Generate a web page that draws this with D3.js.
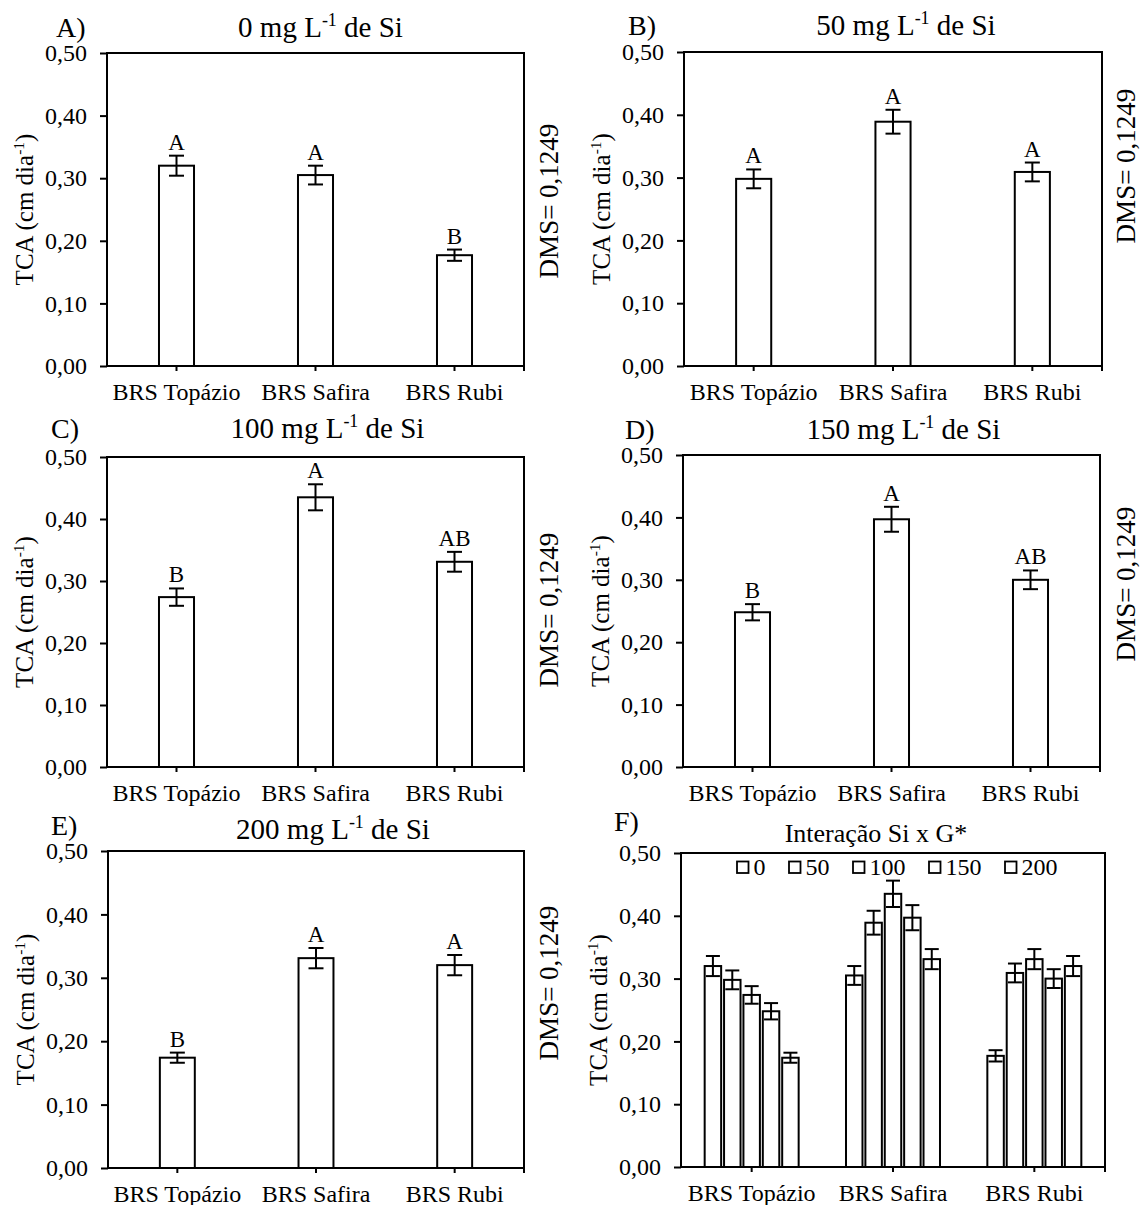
<!DOCTYPE html>
<html>
<head>
<meta charset="utf-8">
<script src="https://cdn.jsdelivr.net/npm/d3@7"></script>
<style>
  html, body { margin: 0; padding: 0; background: #fff; }
  svg { display: block; }
  text { font-family: "Liberation Serif", "Times New Roman", serif; fill: #000; }
</style>
</head>
<body>
<svg id="chart" width="1140" height="1205"></svg>
<script>
// ---------------- data ----------------
const categories = ["BRS Topázio", "BRS Safira", "BRS Rubi"];
const doses = ["0", "50", "100", "150", "200"];

const tca_0   = [0.320, 0.305, 0.177];
const tca_50  = [0.298, 0.389, 0.309];
const tca_100 = [0.274, 0.435, 0.331];
const tca_150 = [0.248, 0.397, 0.300];
const tca_200 = [0.174, 0.331, 0.320];

const err_0   = [0.016, 0.015, 0.009];
const err_50  = [0.015, 0.019, 0.015];
const err_100 = [0.014, 0.021, 0.016];
const err_150 = [0.013, 0.020, 0.015];
const err_200 = [0.008, 0.016, 0.016];

const letters_0   = ["A", "A", "B"];
const letters_50  = ["A", "A", "A"];
const letters_100 = ["B", "A", "AB"];
const letters_150 = ["B", "A", "AB"];
const letters_200 = ["B", "A", "A"];

const yTicks = [0, 0.1, 0.2, 0.3, 0.4, 0.5];
const dmsText = "DMS= 0,1249";
const interactionTitle = "Interação Si x G*";

const tcaByDose = [tca_0, tca_50, tca_100, tca_150, tca_200];
const errByDose = [err_0, err_50, err_100, err_150, err_200];
const lettersByDose = [letters_0, letters_50, letters_100, letters_150, letters_200];

// ---------------- layout ----------------
const FONT = 24;
const panels = [
  {tag: "A)", dose: 0, x0: 107, x1: 524, y0: 53, y1: 366, titleDx: 5,  labelX: 56,  labelY: 37,  titleY: 37,  dmsX: 558,  dmsY: 201},
  {tag: "B)", dose: 1, x0: 684, x1: 1102, y0: 52, y1: 366, titleDx: 13, labelX: 628, labelY: 35,  titleY: 35,  dmsX: 1135, dmsY: 166},
  {tag: "C)", dose: 2, x0: 107, x1: 524, y0: 457, y1: 767, titleDx: 12, labelX: 51,  labelY: 438, titleY: 438, dmsX: 558,  dmsY: 610},
  {tag: "D)", dose: 3, x0: 683, x1: 1100, y0: 455, y1: 767, titleDx: 12, labelX: 625, labelY: 439, titleY: 439, dmsX: 1135, dmsY: 584},
  {tag: "E)", dose: 4, x0: 108, x1: 524, y0: 851, y1: 1168, titleDx: 17, labelX: 51,  labelY: 835, titleY: 839, dmsX: 558,  dmsY: 983},
  {tag: "F)", dose: null, x0: 681, x1: 1105, y0: 853, y1: 1167, titleDx: -17, labelX: 614, labelY: 831, titleY: 842}
];

const svg = d3.select("#chart");
svg.append("rect").attr("width", 1140).attr("height", 1205).attr("fill", "#fff");

function richText(sel, parts, size) {
  const supSize = size * 0.62, shift = size * 0.38;
  parts.forEach((p, i) => {
    const t = sel.append("tspan").text(p.t);
    if (p.sup) {
      t.attr("font-size", supSize).attr("dy", -shift);
    } else {
      t.attr("font-size", size);
      if (i > 0 && parts[i - 1].sup) t.attr("dy", shift);
    }
  });
  return sel;
}

const fmt = v => d3.format(".2f")(v).replace(".", ",");

panels.forEach(p => {
  const g = svg.append("g");
  const y = d3.scaleLinear().domain([0, 0.5]).range([p.y1, p.y0]);
  const x = d3.scaleBand().domain(categories).range([p.x0, p.x1]).padding(0);

  // y axis
  const ya = g.append("g").attr("transform", `translate(${p.x0},0)`)
    .call(d3.axisLeft(y).tickValues(yTicks).tickFormat(fmt).tickSize(7).tickPadding(13));
  ya.select(".domain").remove();
  ya.selectAll("line").attr("stroke", "#000").attr("stroke-width", 2);
  ya.selectAll("text").attr("font-size", FONT).attr("font-family", "Liberation Serif, serif");

  // x axis
  const xa = g.append("g").attr("transform", `translate(0,${p.y1})`)
    .call(d3.axisBottom(x).tickSize(5).tickPadding(12));
  xa.select(".domain").remove();
  xa.selectAll("line").attr("stroke", "#000").attr("stroke-width", 2);
  xa.selectAll("text").attr("font-size", FONT).attr("font-family", "Liberation Serif, serif");
  g.append("line").attr("x1", p.x1).attr("x2", p.x1).attr("y1", p.y1).attr("y2", p.y1 + 5)
    .attr("stroke", "#000").attr("stroke-width", 2);

  const barG = g.append("g");

  if (p.dose !== null) {
    const vals = tcaByDose[p.dose], errs = errByDose[p.dose], lets = lettersByDose[p.dose];
    const bw = x.bandwidth() * 0.252;
    const data = categories.map((c, i) => ({c, v: vals[i], e: errs[i], l: lets[i]}));
    barG.selectAll("rect").data(data).join("rect")
      .attr("x", d => x(d.c) + x.bandwidth() / 2 - bw / 2)
      .attr("y", d => y(d.v))
      .attr("width", bw)
      .attr("height", d => y(0) - y(d.v))
      .attr("fill", "#fff").attr("stroke", "#000").attr("stroke-width", 2);
    const cap = 15;
    const eg = barG.selectAll("g.err").data(data).join("g").attr("class", "err");
    eg.append("line").attr("x1", d => x(d.c) + x.bandwidth() / 2).attr("x2", d => x(d.c) + x.bandwidth() / 2)
      .attr("y1", d => y(d.v + d.e)).attr("y2", d => y(d.v - d.e));
    eg.append("line").attr("x1", d => x(d.c) + x.bandwidth() / 2 - cap / 2).attr("x2", d => x(d.c) + x.bandwidth() / 2 + cap / 2)
      .attr("y1", d => y(d.v + d.e)).attr("y2", d => y(d.v + d.e));
    eg.append("line").attr("x1", d => x(d.c) + x.bandwidth() / 2 - cap / 2).attr("x2", d => x(d.c) + x.bandwidth() / 2 + cap / 2)
      .attr("y1", d => y(d.v - d.e)).attr("y2", d => y(d.v - d.e));
    eg.selectAll("line").attr("stroke", "#000").attr("stroke-width", 2);
    barG.selectAll("text.let").data(data).join("text").attr("class", "let")
      .attr("x", d => x(d.c) + x.bandwidth() / 2)
      .attr("y", d => y(d.v + d.e) - 6)
      .attr("text-anchor", "middle").attr("font-size", 23)
      .text(d => d.l);

    // title
    const t = g.append("text").attr("x", (p.x0 + p.x1) / 2 + p.titleDx).attr("y", p.titleY)
      .attr("text-anchor", "middle");
    richText(t, [{t: doses[p.dose] + " mg L"}, {t: "-1", sup: true}, {t: " de Si"}], 29);

    // DMS
    g.append("text").attr("transform", `translate(${p.dmsX},${p.dmsY}) rotate(-90)`)
      .attr("text-anchor", "middle").attr("font-size", 27).text(dmsText);
  } else {
    // grouped interaction panel
    const gw = x.bandwidth() * 0.665;
    const x1 = d3.scaleBand().domain(doses).range([-gw / 2, gw / 2]).paddingInner(0.15).paddingOuter(0);
    const data = [];
    categories.forEach((c, ci) => doses.forEach((d, di) => {
      data.push({c, d, v: tcaByDose[di][ci], e: errByDose[di][ci]});
    }));
    const cx = d => x(d.c) + x.bandwidth() / 2 + x1(d.d) + x1.bandwidth() / 2;
    barG.selectAll("rect").data(data).join("rect")
      .attr("x", d => cx(d) - x1.bandwidth() / 2)
      .attr("y", d => y(d.v))
      .attr("width", x1.bandwidth())
      .attr("height", d => y(0) - y(d.v))
      .attr("fill", "#fff").attr("stroke", "#000").attr("stroke-width", 2);
    const cap = 14;
    const eg = barG.selectAll("g.err").data(data).join("g").attr("class", "err");
    eg.append("line").attr("x1", cx).attr("x2", cx).attr("y1", d => y(d.v + d.e)).attr("y2", d => y(d.v - d.e));
    eg.append("line").attr("x1", d => cx(d) - cap / 2).attr("x2", d => cx(d) + cap / 2)
      .attr("y1", d => y(d.v + d.e)).attr("y2", d => y(d.v + d.e));
    eg.append("line").attr("x1", d => cx(d) - cap / 2).attr("x2", d => cx(d) + cap / 2)
      .attr("y1", d => y(d.v - d.e)).attr("y2", d => y(d.v - d.e));
    eg.selectAll("line").attr("stroke", "#000").attr("stroke-width", 2);

    // title
    g.append("text").attr("x", (p.x0 + p.x1) / 2 + p.titleDx).attr("y", p.titleY)
      .attr("text-anchor", "middle").attr("font-size", 26).text(interactionTitle);

    // legend
    const lg = g.append("g");
    let lx = p.x0 + 56;
    const ly = p.y0 + 8.5, sq = 11.5;
    doses.forEach(d => {
      lg.append("rect").attr("x", lx).attr("y", ly).attr("width", sq).attr("height", sq)
        .attr("fill", "#fff").attr("stroke", "#000").attr("stroke-width", 1.8);
      const t = lg.append("text").attr("x", lx + sq + 5).attr("y", ly + sq + 1.5)
        .attr("font-size", FONT).text(d);
      lx = lx + sq + 5 + t.node().getComputedTextLength() + 23.5;
    });
  }

  // frame
  g.append("rect").attr("x", p.x0).attr("y", p.y0).attr("width", p.x1 - p.x0).attr("height", p.y1 - p.y0)
    .attr("fill", "none").attr("stroke", "#000").attr("stroke-width", 2);

  // panel tag
  g.append("text").attr("x", p.labelX).attr("y", p.labelY).attr("font-size", 28).text(p.tag);

  // y label
  const yl = g.append("text")
    .attr("transform", `translate(${p.x0 - 74},${(p.y0 + p.y1) / 2}) rotate(-90)`)
    .attr("text-anchor", "middle");
  richText(yl, [{t: "TCA (cm dia"}, {t: "-1", sup: true}, {t: ")"}], 25);
});
</script>
</body>
</html>
